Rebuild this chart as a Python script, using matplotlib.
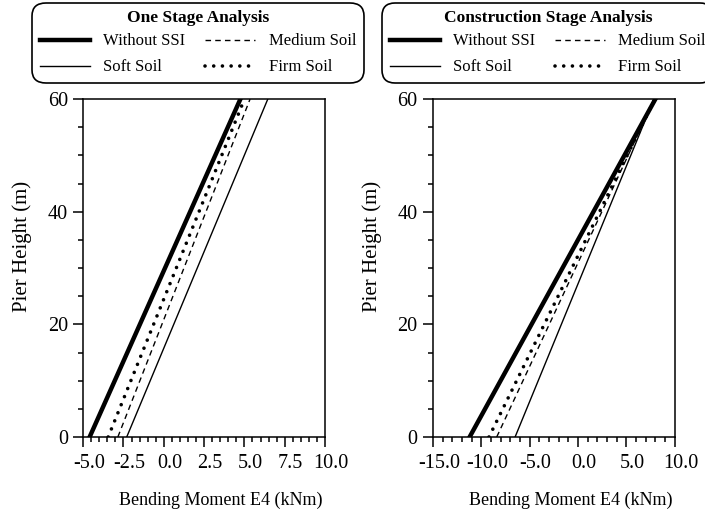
import matplotlib
matplotlib.use('Agg')
import matplotlib.pyplot as plt
from matplotlib.ticker import MultipleLocator
from matplotlib.transforms import ScaledTranslation
import numpy as np

plt.rcParams['font.family'] = ['Liberation Serif', 'DejaVu Serif']
plt.rcParams['axes.unicode_minus'] = False
plt.rcParams['font.size'] = 12

# pier height (m), bottom and top of the pier
height = [0, 60]

# bending moment E4 (kNm) - one stage analysis
one_without = [-4.6, 4.75]
one_soft = [-2.3, 6.45]
one_medium = [-2.85, 5.35]
one_firm = [-3.45, 5.0]

# bending moment E4 (kNm) - construction stage analysis
con_without = [-11.2, 8.0]
con_soft = [-6.5, 7.85]
con_medium = [-8.4, 7.9]
con_firm = [-9.2, 7.95]

titles = ['One Stage Analysis', 'Construction Stage Analysis']

fig = plt.figure(figsize=(7.05, 5.19), dpi=100)
ax1 = fig.add_axes([0.118, 0.158, 0.343, 0.651])
ax2 = fig.add_axes([0.614, 0.158, 0.343, 0.651])


def draw(ax, without, soft, medium, firm):
    ax.plot(without, height, color='k', linewidth=3.2, label='Without SSI')
    ax.plot(soft, height, color='k', linewidth=1.0, label='Soft Soil')
    ax.plot(medium, height, color='k', linewidth=1.0, linestyle=(0, (4, 3)), label='Medium Soil')
    ax.plot(firm, height, color='k', linewidth=2.6, linestyle=(0, (0.01, 2.4)),
            dash_capstyle='round', label='Firm Soil')
    ax.set_ylim(0, 60)
    ax.yaxis.set_major_locator(MultipleLocator(20))
    ax.yaxis.set_minor_locator(MultipleLocator(5))
    ax.set_ylabel('Pier Height (m)', fontsize=15)
    ax.set_xlabel('Bending Moment E4 (kNm)', fontsize=13)
    # labels sit off-centre in the original
    ax.yaxis.set_label_coords(-0.21, 0.565)
    ax.xaxis.set_label_coords(0.57, -0.163)
    ax.tick_params(which='major', direction='out', length=7.5, width=1.1, labelsize=14.5)
    ax.tick_params(axis='x', which='major', pad=5)
    ax.tick_params(which='minor', direction='out', length=3.5, width=1.1)
    for s in ax.spines.values():
        s.set_linewidth(1.1)


draw(ax1, one_without, one_soft, one_medium, one_firm)
ax1.set_xlim(-5, 10)
ax1.xaxis.set_minor_locator(MultipleLocator(0.5))
ax1.set_xticks(np.arange(-5, 10.1, 2.5))
ax1.set_xticklabels(['%.1f' % v for v in np.arange(-5, 10.1, 2.5)])

draw(ax2, con_without, con_soft, con_medium, con_firm)
ax2.set_xlim(-15, 10)
ax2.xaxis.set_minor_locator(MultipleLocator(1))
ax2.set_xticks(np.arange(-15, 10.1, 5))
ax2.set_xticklabels(['%.1f' % v for v in np.arange(-15, 10.1, 5)])

# x tick labels are nudged a little to the right in the original
shift = ScaledTranslation(6 / 100, 0, fig.dpi_scale_trans)
for ax in [ax1, ax2]:
    for lab in ax.get_xticklabels():
        lab.set_transform(lab.get_transform() + shift)

# legends with rounded boxes above each plot
for ax, t, cx in [(ax1, titles[0], 0.281), (ax2, titles[1], 0.777)]:
    leg = ax.legend(loc='upper center', bbox_to_anchor=(cx, 1.004),
                    bbox_transform=fig.transFigure, ncol=2, title=t,
                    fontsize=12, handlelength=3.0, handletextpad=0.8,
                    columnspacing=1.2, labelspacing=0.6, borderpad=0.25,
                    frameon=True, fancybox=True, framealpha=1)
    leg.get_title().set_fontweight('bold')
    leg.get_title().set_fontsize(12.5)
    leg._legend_box.sep = 5
    leg.get_frame().set_edgecolor('k')
    leg.get_frame().set_linewidth(1.2)
    leg.get_frame().set_boxstyle('round,pad=0.2,rounding_size=0.8')

plt.savefig('out.png', dpi=100)
